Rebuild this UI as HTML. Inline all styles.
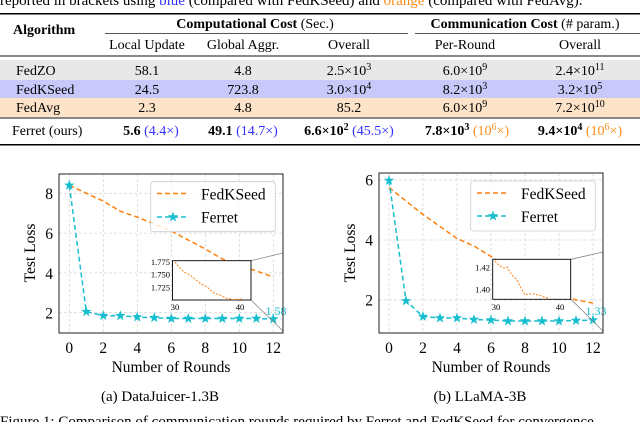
<!DOCTYPE html>
<html><head><meta charset="utf-8"><style>
html,body{margin:0;padding:0;background:#fff;}
svg{display:block;font-family:"Liberation Serif",serif;}
</style></head><body>
<svg width="640" height="422" viewBox="0 0 640 422" xmlns="http://www.w3.org/2000/svg">
<defs>
<polygon id="st" points="0,-5.5 1.3,-1.8 5.2,-1.7 2.1,0.7 3.2,4.5 0,2.2 -3.2,4.5 -2.1,0.7 -5.2,-1.7 -1.3,-1.8" fill="#17becf"/>
</defs>
<text x="0" y="5" font-size="15" fill="#000">reported in brackets using <tspan fill="#3030ff">blue</tspan> (compared with FedKSeed) and <tspan fill="#ff8c1a">orange</tspan> (compared with FedAvg).</text>
<rect x="0" y="13" width="640" height="1.5" fill="#000"/>
<text x="13" y="34" font-size="14" font-weight="bold">Algorithm</text>
<text x="255" y="28" font-size="14" text-anchor="middle"><tspan font-weight="bold">Computational Cost</tspan> (Sec.)</text>
<text x="525" y="28" font-size="14" text-anchor="middle"><tspan font-weight="bold">Communication Cost</tspan> (# param.)</text>
<rect x="105" y="33" width="303" height="1" fill="#555"/>
<rect x="415" y="33" width="225" height="1" fill="#555"/>
<g font-size="14" text-anchor="middle">
<text x="147" y="49">Local Update</text><text x="243" y="49">Global Aggr.</text><text x="349" y="49">Overall</text>
<text x="465" y="49">Per-Round</text><text x="580" y="49">Overall</text>
</g>
<rect x="0" y="55" width="640" height="2" fill="#888"/>
<rect x="0" y="60" width="640" height="20" fill="#e8e8e8"/>
<rect x="0" y="80" width="640" height="18" fill="#c8c8fa"/>
<rect x="0" y="98" width="640" height="19" fill="#fde3c8"/>
<g font-size="14">
<text x="16" y="75">FedZO</text><text x="16" y="94">FedKSeed</text><text x="16" y="112">FedAvg</text>
</g>
<g font-size="14" text-anchor="middle">
<text x="147" y="75">58.1</text><text x="243" y="75">4.8</text><text x="349" y="75">2.5×10<tspan font-size="10" dy="-5">3</tspan></text><text x="465" y="75">6.0×10<tspan font-size="10" dy="-5">9</tspan></text><text x="580" y="75">2.4×10<tspan font-size="10" dy="-5">11</tspan></text>
<text x="147" y="94">24.5</text><text x="243" y="94">723.8</text><text x="349" y="94">3.0×10<tspan font-size="10" dy="-5">4</tspan></text><text x="465" y="94">8.2×10<tspan font-size="10" dy="-5">3</tspan></text><text x="580" y="94">3.2×10<tspan font-size="10" dy="-5">5</tspan></text>
<text x="147" y="112">2.3</text><text x="243" y="112">4.8</text><text x="349" y="112">85.2</text><text x="465" y="112">6.0×10<tspan font-size="10" dy="-5">9</tspan></text><text x="580" y="112">7.2×10<tspan font-size="10" dy="-5">10</tspan></text>
</g>
<rect x="0" y="117" width="640" height="2" fill="#888"/>
<g font-size="14">
<text x="12" y="135">Ferret (ours)</text>
<text x="151" y="135" text-anchor="middle"><tspan font-weight="bold">5.6</tspan> <tspan fill="#3030ff">(4.4×)</tspan></text>
<text x="243" y="135" text-anchor="middle"><tspan font-weight="bold">49.1</tspan> <tspan fill="#3030ff">(14.7×)</tspan></text>
<text x="349" y="135" text-anchor="middle"><tspan font-weight="bold">6.6×10<tspan font-size="10" dy="-5">2</tspan></tspan><tspan dy="5"> </tspan><tspan fill="#3030ff">(45.5×)</tspan></text>
<text x="467" y="135" text-anchor="middle"><tspan font-weight="bold">7.8×10<tspan font-size="10" dy="-5">3</tspan></tspan><tspan dy="5"> </tspan><tspan fill="#ff8c1a">(10<tspan font-size="10" dy="-5">6</tspan><tspan dy="5">×)</tspan></tspan></text>
<text x="580" y="135" text-anchor="middle"><tspan font-weight="bold">9.4×10<tspan font-size="10" dy="-5">4</tspan></tspan><tspan dy="5"> </tspan><tspan fill="#ff8c1a">(10<tspan font-size="10" dy="-5">6</tspan><tspan dy="5">×)</tspan></tspan></text>
</g>
<rect x="0" y="144" width="640" height="1.5" fill="#000"/>

<!-- LEFT CHART -->
<g>
<g stroke="#d8d8d8" stroke-dasharray="3,2" stroke-width="0.8">
<line x1="69.3" y1="174" x2="69.3" y2="333"/><line x1="103.3" y1="174" x2="103.3" y2="333"/><line x1="137.3" y1="174" x2="137.3" y2="333"/><line x1="171.3" y1="174" x2="171.3" y2="333"/><line x1="205.3" y1="174" x2="205.3" y2="333"/><line x1="239.3" y1="174" x2="239.3" y2="333"/><line x1="273.3" y1="174" x2="273.3" y2="333"/>
<line x1="59" y1="193.3" x2="283" y2="193.3"/><line x1="59" y1="233.1" x2="283" y2="233.1"/><line x1="59" y1="272.9" x2="283" y2="272.9"/><line x1="59" y1="312.7" x2="283" y2="312.7"/>
</g>
<polyline fill="none" stroke="#ff7f0e" stroke-width="1.5" stroke-dasharray="5,3" points="69.3,185.3 103.3,201.2 120.3,211.2 137.3,217.1 171.3,231.1 205.3,249 222.3,259 239.3,265 273.3,277"/>
<polyline fill="none" stroke="#17becf" stroke-width="1.5" stroke-dasharray="5,3" points="69.3,185.3 86.3,311.7 103.3,315.7 120.3,315.7 137.3,317.1 154.3,317.7 171.3,318.5 188.3,318.5 205.3,318.5 222.3,318.5 239.3,318.5 256.3,318.5 273.3,319.1"/>
<g>
<use href="#st" x="69.3" y="185.3"/><use href="#st" x="86.3" y="311.7"/><use href="#st" x="103.3" y="315.7"/><use href="#st" x="120.3" y="315.7"/><use href="#st" x="137.3" y="317.1"/><use href="#st" x="154.3" y="317.7"/><use href="#st" x="171.3" y="318.5"/><use href="#st" x="188.3" y="318.5"/><use href="#st" x="205.3" y="318.5"/><use href="#st" x="222.3" y="318.5"/><use href="#st" x="239.3" y="318.5"/><use href="#st" x="256.3" y="318.5"/><use href="#st" x="273.3" y="319.1"/>
</g>
<rect x="150.7" y="181.7" width="124.6" height="50" rx="3" fill="#fff" fill-opacity="0.8" stroke="#ccc" stroke-width="0.8"/>
<line x1="157" y1="193.5" x2="189" y2="193.5" stroke="#ff7f0e" stroke-width="1.5" stroke-dasharray="5,3"/>
<text x="201" y="199.5" font-size="15.5">FedKSeed</text>
<line x1="157" y1="217" x2="189" y2="217" stroke="#17becf" stroke-width="1.5" stroke-dasharray="5,3"/>
<use href="#st" x="173" y="217"/>
<text x="201" y="222.5" font-size="15.5">Ferret</text>
<line x1="251" y1="260.7" x2="283" y2="253" stroke="#888" stroke-width="0.8"/>
<line x1="251" y1="300" x2="283" y2="331" stroke="#888" stroke-width="0.8"/>
<rect x="172.5" y="260.7" width="78.5" height="39.3" fill="#fff" stroke="#000" stroke-width="0.9"/>
<polyline fill="none" stroke="#ff7f0e" stroke-width="1" stroke-dasharray="2,1.5" points="175,262 181,269 184,272 190,275 195,279 201,284 207,287 214,293 220,295 226,298 233,299.5 240,299.3 243,298.8"/>
<g font-size="8.5" text-anchor="end"><text x="170" y="265">1.775</text><text x="170" y="277.5">1.750</text><text x="170" y="290.5">1.725</text></g>
<g font-size="8.5" text-anchor="middle"><text x="175" y="310">30</text><text x="240" y="310">40</text></g>
<text x="276" y="315" font-size="12" fill="#17becf" text-anchor="middle">1.58</text>
<rect x="59" y="174" width="224" height="159" fill="none" stroke="#222" stroke-width="1"/>
<g font-size="15.5" text-anchor="middle">
<text x="69.3" y="353">0</text><text x="103.3" y="353">2</text><text x="137.3" y="353">4</text><text x="171.3" y="353">6</text><text x="205.3" y="353">8</text><text x="239.3" y="353">10</text><text x="273.3" y="353">12</text>
</g>
<g font-size="15.5" text-anchor="end">
<text x="53" y="199">8</text><text x="53" y="239">6</text><text x="53" y="279">4</text><text x="53" y="318.5">2</text>
</g>
<text x="171" y="372" font-size="15.5" text-anchor="middle">Number of Rounds</text>
<text transform="translate(35,253) rotate(-90)" font-size="15.5" text-anchor="middle">Test Loss</text>
<text x="160" y="401" font-size="15" text-anchor="middle">(a) DataJuicer-1.3B</text>
</g>

<!-- RIGHT CHART -->
<g>
<g stroke="#d8d8d8" stroke-dasharray="3,2" stroke-width="0.8">
<line x1="389" y1="173" x2="389" y2="333"/><line x1="423" y1="173" x2="423" y2="333"/><line x1="457" y1="173" x2="457" y2="333"/><line x1="491" y1="173" x2="491" y2="333"/><line x1="525" y1="173" x2="525" y2="333"/><line x1="559" y1="173" x2="559" y2="333"/><line x1="593" y1="173" x2="593" y2="333"/>
<line x1="379" y1="180" x2="603" y2="180"/><line x1="379" y1="240" x2="603" y2="240"/><line x1="379" y1="300" x2="603" y2="300"/>
</g>
<polyline fill="none" stroke="#ff7f0e" stroke-width="1.5" stroke-dasharray="5,3" points="389,187.5 406,201 423,214.5 440,226.5 457,238.5 474,246 491,256.5 508,267 525,276 542,285 559,294 576,300 593,303"/>
<polyline fill="none" stroke="#17becf" stroke-width="1.5" stroke-dasharray="5,3" points="389,180.5 406,300.9 423,316.5 440,318 457,318 474,319.5 491,320.1 508,321 525,321 542,321 559,321 576,320.5 593,320.1"/>
<g>
<use href="#st" x="389" y="180.5"/><use href="#st" x="406" y="300.9"/><use href="#st" x="423" y="316.5"/><use href="#st" x="440" y="318"/><use href="#st" x="457" y="318"/><use href="#st" x="474" y="319.5"/><use href="#st" x="491" y="320.1"/><use href="#st" x="508" y="321"/><use href="#st" x="525" y="321"/><use href="#st" x="542" y="321"/><use href="#st" x="559" y="321"/><use href="#st" x="576" y="320.5"/><use href="#st" x="593" y="320.1"/>
</g>
<rect x="470.7" y="181" width="124.6" height="50" rx="3" fill="#fff" fill-opacity="0.8" stroke="#ccc" stroke-width="0.8"/>
<line x1="477" y1="193" x2="509" y2="193" stroke="#ff7f0e" stroke-width="1.5" stroke-dasharray="5,3"/>
<text x="521" y="199" font-size="15.5">FedKSeed</text>
<line x1="477" y1="216" x2="509" y2="216" stroke="#17becf" stroke-width="1.5" stroke-dasharray="5,3"/>
<use href="#st" x="493" y="216"/>
<text x="521" y="222" font-size="15.5">Ferret</text>
<line x1="571" y1="259.3" x2="603" y2="252" stroke="#888" stroke-width="0.8"/>
<line x1="571" y1="299.3" x2="603" y2="331" stroke="#888" stroke-width="0.8"/>
<rect x="492.7" y="259.3" width="78" height="40" fill="#fff" stroke="#000" stroke-width="0.9"/>
<polyline fill="none" stroke="#ff7f0e" stroke-width="1" stroke-dasharray="2,1.5" points="495,261 500,266 504,268 507,267 512,275 517,280 521,288 525,295 528,294 533,294 539,295 544,297 548,298"/>
<g font-size="8.5" text-anchor="end"><text x="490" y="270.5">1.42</text><text x="490" y="292.5">1.40</text></g>
<g font-size="8.5" text-anchor="middle"><text x="496" y="310">30</text><text x="560" y="310">40</text></g>
<text x="596" y="315" font-size="12" fill="#17becf" text-anchor="middle">1.33</text>
<rect x="379" y="173" width="224" height="160" fill="none" stroke="#222" stroke-width="1"/>
<g font-size="15.5" text-anchor="middle">
<text x="389" y="353">0</text><text x="423" y="353">2</text><text x="457" y="353">4</text><text x="491" y="353">6</text><text x="525" y="353">8</text><text x="559" y="353">10</text><text x="593" y="353">12</text>
</g>
<g font-size="15.5" text-anchor="end">
<text x="373" y="185.5">6</text><text x="373" y="245.5">4</text><text x="373" y="305.5">2</text>
</g>
<text x="491" y="372" font-size="15.5" text-anchor="middle">Number of Rounds</text>
<text transform="translate(355,253) rotate(-90)" font-size="15.5" text-anchor="middle">Test Loss</text>
<text x="480" y="401" font-size="15" text-anchor="middle">(b) LLaMA-3B</text>
</g>

<text x="0" y="426" font-size="15">Figure 1: Comparison of communication rounds required by Ferret and FedKSeed for convergence</text>
</svg>
</body></html>
